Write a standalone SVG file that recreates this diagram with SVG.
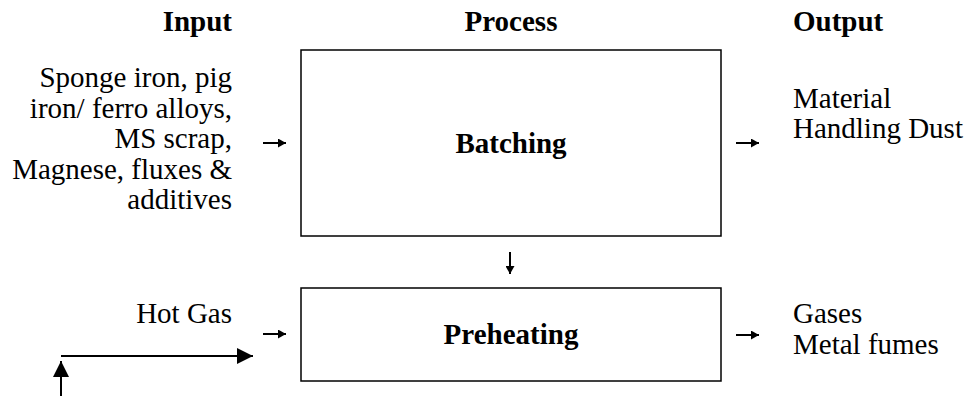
<svg xmlns="http://www.w3.org/2000/svg" width="967" height="396" viewBox="0 0 967 396">
<defs>
<style>
text{font-family:"Liberation Serif","Times New Roman",serif;font-size:29px;fill:#000}
.h{font-weight:bold}
.r{text-anchor:end}
.c{text-anchor:middle}
.box{fill:#fff;stroke:#000;stroke-width:1.5}
.sm{fill:none;stroke:#000;stroke-width:2}
.big{fill:none;stroke:#000;stroke-width:2}
</style>
<marker id="ms" viewBox="0 0 8 9" refX="8" refY="4.5" markerWidth="8" markerHeight="9" markerUnits="userSpaceOnUse" orient="auto">
<path d="M0,0 L8,4.5 L0,9 Z" fill="#000"/>
</marker>
<marker id="mb" viewBox="0 0 16 16" refX="16" refY="8" markerWidth="16" markerHeight="16" markerUnits="userSpaceOnUse" orient="auto">
<path d="M0,0 L16,8 L0,16 Z" fill="#000"/>
</marker>
</defs>
<rect width="967" height="396" fill="#fff"/>
<g id="headers">
<text class="h r" x="232" y="31">Input</text>
<text class="h c" x="511" y="31">Process</text>
<text class="h" x="793" y="31">Output</text>
</g>
<g id="input-batching">
<text class="r" x="232" y="87">Sponge iron, pig</text>
<text class="r" x="232" y="117.5">iron/ ferro alloys,</text>
<text class="r" x="232" y="148">MS scrap,</text>
<text class="r" x="232" y="178.5">Magnese, fluxes &amp;</text>
<text class="r" x="232" y="209">additives</text>
</g>
<g id="batching">
<rect class="box" x="301" y="50" width="420" height="186"/>
<text class="h c" x="511" y="153">Batching</text>
</g>
<g id="output-batching">
<text x="793" y="108">Material</text>
<text x="793" y="138">Handling Dust</text>
</g>
<g id="input-preheating">
<text class="r" x="232" y="323">Hot Gas</text>
</g>
<g id="preheating">
<rect class="box" x="301" y="288" width="420" height="93"/>
<text class="h c" x="511" y="344">Preheating</text>
</g>
<g id="output-preheating">
<text x="793" y="323">Gases</text>
<text x="793" y="354">Metal fumes</text>
</g>
<g id="connectors">
<line class="sm" x1="263" y1="143" x2="286" y2="143" marker-end="url(#ms)"/>
<line class="sm" x1="736" y1="143" x2="759" y2="143" marker-end="url(#ms)"/>
<line class="sm" x1="510" y1="252" x2="510" y2="274" marker-end="url(#ms)"/>
<line class="sm" x1="263" y1="334" x2="286" y2="334" marker-end="url(#ms)"/>
<line class="sm" x1="736" y1="335" x2="759" y2="335" marker-end="url(#ms)"/>
<line class="big" x1="61" y1="356" x2="253" y2="356" marker-end="url(#mb)"/>
<line class="big" x1="61" y1="396" x2="61" y2="361" marker-end="url(#mb)"/>
</g>
</svg>
